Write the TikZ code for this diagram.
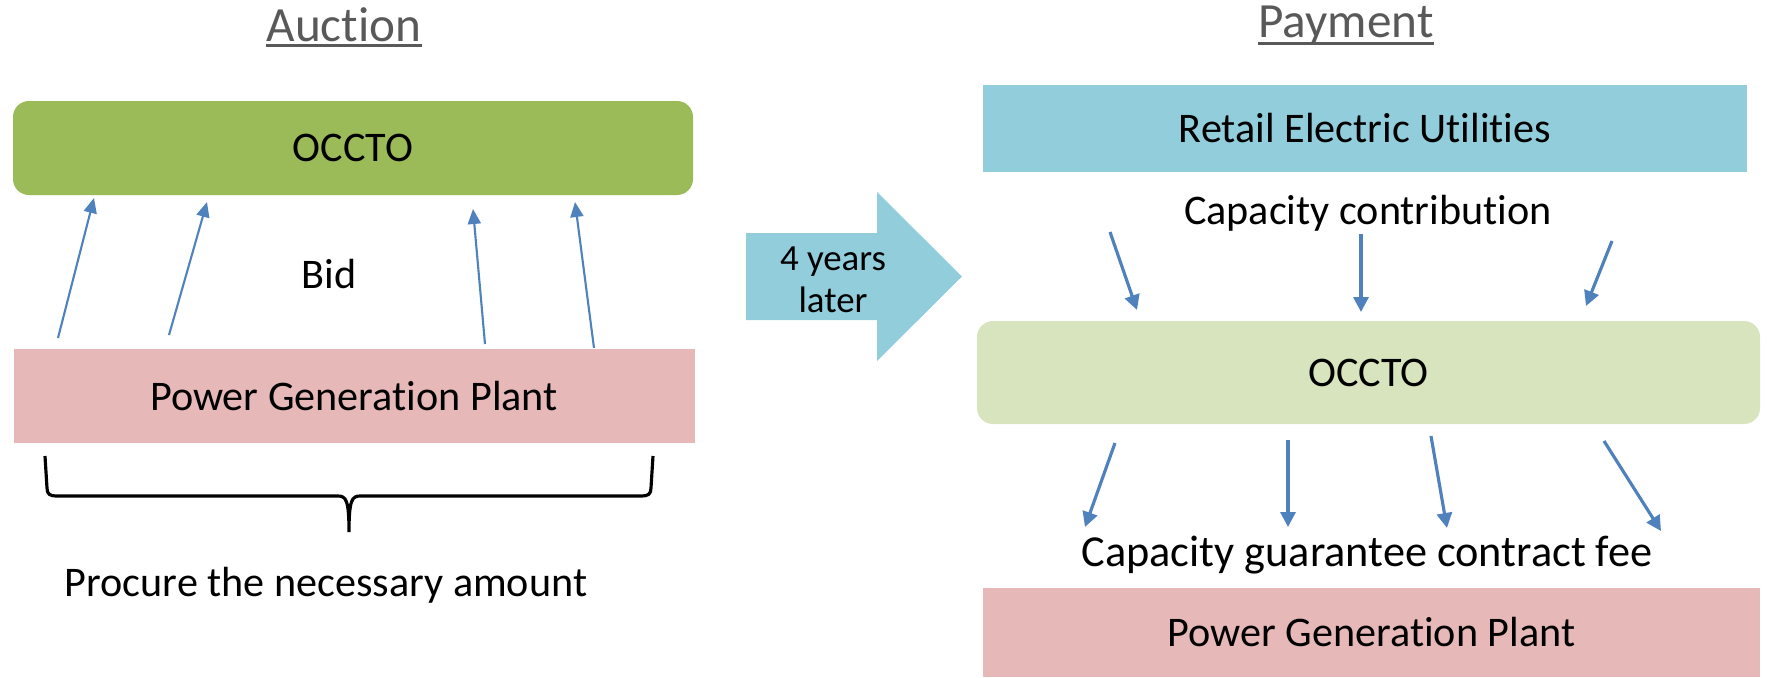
\documentclass[tikz,border=0pt]{standalone}
\usepackage{fontspec}
\setmainfont{Carlito}[RawFeature={-liga;-clig;-dlig;-calt}]
\usetikzlibrary{arrows.meta,positioning}
\definecolor{occtogreen}{HTML}{9BBB59}
\definecolor{occtolight}{HTML}{D7E4BD}
\definecolor{plantpink}{HTML}{E6B8B7}
\definecolor{retailblue}{HTML}{92CDDC}
\definecolor{flowblue}{HTML}{4F81BD}
\definecolor{titlegray}{HTML}{595959}
\tikzset{%
  box/.style={inner sep=0pt,outer sep=0pt,font=\fontsize{12}{14}\selectfont},
  roundbox/.style={box,rounded corners=1.6mm},
  title/.style={inner sep=0pt,anchor=base,font=\fontsize{14}{16}\selectfont,text=titlegray},
  caption/.style={inner sep=0pt,anchor=base,font=\fontsize{12}{14}\selectfont},
  bid/.style={draw=flowblue,line width=0.6pt,-{Triangle[length=1.5mm,width=1.3mm]}},
  pay/.style={draw=flowblue,line width=0.9pt,-{Triangle[length=1.5mm,width=1.5mm]}},
}

\begin{document}
\begin{tikzpicture}[x=0.1mm,y=-0.1mm]
      \useasboundingbox (0,0) rectangle (1767,677);

      % auction side
      \node[title] (auction) at (344,41) {Auction};
      \draw[titlegray,line width=0.9pt] ([yshift=-1.3pt]auction.base west) -- ([yshift=-1.3pt]auction.base east);

      \node[roundbox,fill=occtogreen,minimum width=68mm,minimum height=9.4mm] (occto_bid) at (353,148) {OCCTO};
      \node[box,fill=plantpink,minimum width=68.1mm,minimum height=9.4mm] (plant_bid) at (354,396) {Power Generation Plant};

      \coordinate (bid_1s) at (58,338);   \coordinate (bid_1e) at (94,198);
      \coordinate (bid_2s) at (169,335);  \coordinate (bid_2e) at (207,202);
      \coordinate (bid_3s) at (485,344);  \coordinate (bid_3e) at (473,209);
      \coordinate (bid_4s) at (594,348);  \coordinate (bid_4e) at (575,202);

      \draw[bid] (bid_1s) -- (bid_1e);
      \draw[bid] (bid_2s) -- (bid_2e);
      \draw[bid] (bid_3s) -- (bid_3e);
      \draw[bid] (bid_4s) -- (bid_4e);

      \node[caption] (bid_text) at (329,288) {Bid};

      \draw[line width=0.9pt] (45,456) -- (47,488) .. controls (47,494) and (50,496) .. (56,496)
        -- (338,496) .. controls (346,496) and (349,500) .. (349,532)
        .. controls (349,500) and (352,496) .. (360,496) -- (642,496)
        .. controls (648,496) and (651,494) .. (651,488) -- (653,456);
      \node[caption] (procure) at (326,596) {Procure the necessary amount};

      % four years later
      \fill[retailblue] (746,233) -- (877,233) -- (877,192) -- (962,276.5) -- (877,361)
        -- (877,320) -- (746,320) -- cycle;
      \node[inner sep=0pt,align=center,font=\fontsize{10.5}{11.9}\selectfont] (later) at (833,280) {4 years\\later};

      % payment side
      \node[title] (payment) at (1346,37) {Payment};
      \draw[titlegray,line width=0.9pt] ([yshift=-1.8pt]payment.base west) -- ([yshift=-1.8pt]payment.base east);

      \node[box,fill=retailblue,minimum width=76.4mm,minimum height=8.7mm] (retail) at (1365,128.5) {Retail Electric Utilities};
      \node[caption] (contribution) at (1368,224) {Capacity contribution};

      \node[roundbox,fill=occtolight,minimum width=78.3mm,minimum height=10.3mm] (occto_pay) at (1368.5,372.5) {OCCTO};

      \coordinate (in_1s) at (1110,232);  \coordinate (in_1e) at (1137,310);
      \coordinate (in_2s) at (1361,234);  \coordinate (in_2e) at (1361,312);
      \coordinate (in_3s) at (1612,241);  \coordinate (in_3e) at (1586,306);

      \draw[pay] (in_1s) -- (in_1e);
      \draw[pay] (in_2s) -- (in_2e);
      \draw[pay] (in_3s) -- (in_3e);

      \coordinate (out_1s) at (1115,443);  \coordinate (out_1e) at (1085,527);
      \coordinate (out_2s) at (1288,440);  \coordinate (out_2e) at (1288,527);
      \coordinate (out_3s) at (1431,436);  \coordinate (out_3e) at (1447,528);
      \coordinate (out_4s) at (1604,441);  \coordinate (out_4e) at (1661,531);

      \draw[pay] (out_1s) -- (out_1e);
      \draw[pay] (out_2s) -- (out_2e);
      \draw[pay] (out_3s) -- (out_3e);
      \draw[pay] (out_4s) -- (out_4e);

      \node[caption,font=\fontsize{12.6}{14}\selectfont] (fee) at (1367,566) {Capacity guarantee contract fee};
      \node[box,fill=plantpink,minimum width=77.7mm,minimum height=8.9mm] (plant_pay) at (1371.5,632.5) {Power Generation Plant};
    \end{tikzpicture}
\end{document}
